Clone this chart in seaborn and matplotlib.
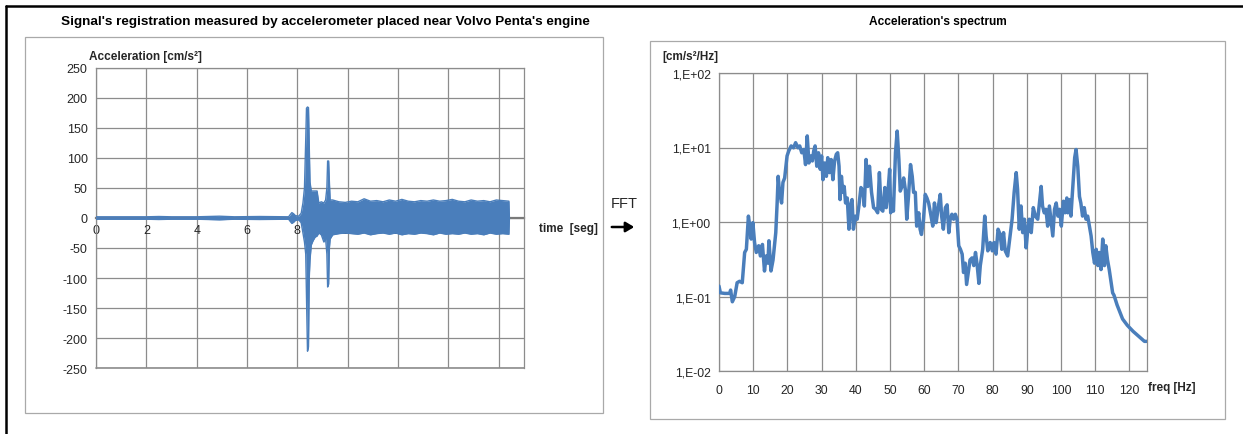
import numpy as np
import pandas as pd
import matplotlib
matplotlib.use("Agg")
import matplotlib.pyplot as plt
from matplotlib.lines import Line2D
from matplotlib.patches import Rectangle, FancyArrowPatch
from matplotlib.ticker import NullLocator, FixedLocator, FixedFormatter
import seaborn as sns

# ---------------- data ----------------
# time-signal envelope (upper / lower bound of the recorded acceleration)
time_s = [0.00, 1.00, 2.00, 2.50, 3.00, 4.00, 4.90, 5.50, 6.50, 7.65, 7.72, 7.78, 7.85, 7.92,
          8.05, 8.15, 8.22, 8.28, 8.33, 8.36, 8.40, 8.44, 8.47, 8.50, 8.55, 8.62, 8.70, 8.78,
          8.85, 8.95, 9.05, 9.12, 9.17, 9.20, 9.24, 9.27, 9.30, 9.40, 9.65, 9.90, 10.15, 10.40,
          10.65, 10.90, 11.15, 11.40, 11.65, 11.90, 12.15, 12.40, 12.65, 12.90, 13.15, 13.40,
          13.65, 13.90, 14.15, 14.40, 14.65, 14.90, 15.15, 15.40, 15.65, 15.90, 16.15, 16.40, 16.42]
acc_upper = [2, 2, 2, 2.5, 2, 2, 3, 2, 2.5, 2, 6, 9, 7, 4,
             3, 8, 25, 50, 130, 183, 185, 184, 120, 60, 45, 45, 45, 45,
             25, 27, 25, 30, 50, 95, 95, 60, 30, 30, 27, 26, 28, 27,
             32, 28, 29, 27, 30, 28, 31, 28, 27, 29, 28, 30,
             28, 29, 31, 28, 27, 30, 28, 29, 27, 30, 29, 28, 0]
acc_lower = [-2, -2, -2, -2.5, -2, -2, -3, -2, -2.5, -2, -6, -9, -7, -4,
             -3, -8, -25, -40, -60, -130, -222, -215, -100, -70, -45, -38, -32, -30,
             -25, -28, -40, -35, -60, -115, -110, -50, -35, -28, -26, -25, -26, -27,
             -25, -28, -26, -25, -27, -25, -28, -26, -27, -25, -26, -28,
             -25, -27, -26, -27, -25, -27, -26, -28, -25, -27, -26, -27, 0]

# acceleration spectrum
freq_hz = [0.0, 0.4, 1.7, 3.1, 3.4, 3.9, 4.6, 5.3, 6.0, 6.8, 7.5, 8.0, 8.6, 9.0, 9.4, 9.9,
           10.4, 10.9, 11.6, 12.1, 12.7, 13.3, 13.8, 14.3, 14.6, 15.2, 15.8, 16.6, 17.0, 17.3,
           17.7, 18.3, 18.7, 19.2, 19.9, 20.4, 21.1, 21.8, 22.4, 23.1, 23.6, 24.2, 24.8, 25.3,
           25.8, 26.3, 26.8, 27.3, 27.7, 28.1, 28.6, 29.1, 29.6, 30.0, 30.4, 30.9, 31.4, 31.8,
           32.3, 32.8, 33.3, 33.8, 34.3, 34.7, 35.1, 35.4, 35.8, 36.2, 36.6, 37.0, 37.5, 38.0,
           38.4, 38.9, 39.3, 39.9, 40.4, 40.9, 41.5, 42.1, 42.5, 43.0, 43.5, 44.0, 44.6, 45.2,
           45.8, 46.4, 46.9, 47.4, 47.9, 48.5, 48.9, 49.4, 49.9, 50.2, 50.6, 51.0, 51.6, 52.1,
           52.6, 53.0, 53.5, 54.0, 54.5, 54.9, 55.4, 56.0, 56.5, 56.9, 57.4, 57.8, 58.4, 58.8,
           59.2, 59.8, 60.3, 60.8, 61.3, 62.0, 62.5, 63.0, 63.5, 64.1, 64.7, 65.1, 65.6, 66.2,
           66.7, 67.2, 67.6, 68.1, 68.6, 69.1, 69.6, 70.1, 70.6, 71.1, 71.5, 72.0, 72.4, 72.9,
           73.4, 74.0, 74.5, 75.0, 75.5, 76.0, 76.4, 77.1, 77.7, 78.1, 78.6, 79.3, 79.9, 80.4,
           81.0, 81.6, 82.2, 82.7, 83.2, 83.7, 84.4, 85.1, 85.7, 86.3, 86.9, 87.3, 87.8, 88.3,
           88.8, 89.3, 89.8, 90.3, 90.7, 91.3, 91.9, 92.5, 93.2, 93.7, 94.2, 94.6, 95.1, 95.6,
           96.1, 96.6, 97.1, 97.6, 98.1, 98.6, 99.1, 99.6, 100.1, 100.7, 101.2, 101.7, 102.0,
           102.4, 102.9, 103.4, 104.0, 104.4, 104.9, 105.4, 105.8, 106.3, 106.8, 107.3, 107.8,
           108.3, 108.8, 109.3, 109.8, 110.3, 110.8, 111.2, 111.7, 112.2, 112.7, 113.1, 113.6,
           114.1, 115.1, 115.5, 116.4, 117.2, 118.0, 119.4, 121.1, 122.8, 124.4, 125.0]
spectrum = [0.138, 0.112, 0.11, 0.11, 0.122, 0.085, 0.10, 0.153, 0.16, 0.153, 0.39, 0.43, 1.2, 0.88, 0.59, 0.98,
            0.53, 0.39, 0.48, 0.35, 0.5, 0.22, 0.35, 0.28, 0.56, 0.22, 0.31, 0.72, 1.8, 4.1,
            2.5, 1.8, 3.4, 3.9, 7.7, 9.0, 10.5, 9.9, 11.6, 9.9, 10.5, 8.5, 9.4, 5.9,
            14.3, 6.2, 7.7, 6.6, 9.0, 10.5, 5.6, 8.5, 5.1, 7.7, 3.7, 6.2, 4.1, 7.3,
            4.6, 6.9, 3.7, 6.6, 8.1, 8.5, 5.6, 2.0, 4.1, 2.5, 3.0, 1.8, 2.1, 0.8,
            1.64, 2.0, 0.8, 1.2, 1.09, 1.64, 2.9, 2.6, 1.64, 6.9, 3.0, 5.6, 2.5, 1.56,
            1.48, 1.33, 4.6, 1.48, 1.4, 2.9, 1.56, 2.5, 5.1, 1.33, 2.0, 1.4, 8.5, 16.6,
            6.9, 2.6, 3.0, 3.9, 2.7, 1.09, 2.2, 5.9, 4.1, 2.5, 2.5, 0.88, 1.33, 0.8,
            0.68, 1.09, 2.35, 2.1, 1.8, 1.2, 0.88, 1.8, 0.98, 1.56, 2.35, 1.2, 0.8, 1.56,
            1.7, 0.72, 1.09, 1.27, 1.09, 1.27, 1.09, 0.48, 0.43, 0.37, 0.21, 0.28, 0.145, 0.21,
            0.31, 0.33, 0.26, 0.39, 0.26, 0.15, 0.26, 0.43, 1.2, 0.65, 0.41, 0.53, 0.41, 0.53,
            0.37, 0.8, 0.68, 0.43, 0.72, 0.41, 0.35, 0.65, 1.09, 2.5, 4.6, 2.75, 0.8, 1.64,
            0.72, 1.09, 0.45, 0.8, 1.09, 0.72, 1.56, 1.2, 1.09, 1.8, 3.0, 1.64, 1.33, 1.48,
            0.88, 1.64, 1.03, 0.65, 1.48, 1.8, 1.2, 1.48, 0.88, 1.9, 1.33, 2.1, 1.33,
            2.0, 1.2, 2.75, 7.3, 9.4, 5.6, 2.2, 1.8, 1.2, 1.56, 1.09, 1.2,
            0.88, 0.65, 0.39, 0.28, 0.43, 0.26, 0.39, 0.23, 0.59, 0.26, 0.48, 0.31,
            0.23, 0.112, 0.104, 0.077, 0.062, 0.05, 0.041, 0.034, 0.029, 0.025, 0.025]

time_ticks = [0, 2, 4, 6, 8, 10, 12, 14, 16]
acc_ticks = [250, 200, 150, 100, 50, 0, -50, -100, -150, -200, -250]
freq_ticks = [0, 10, 20, 30, 40, 50, 60, 70, 80, 90, 100, 110, 120]
spec_ticks = [1e-2, 1e-1, 1e0, 1e1, 1e2]
spec_tick_labels = ["1,E-02", "1,E-01", "1,E+00", "1,E+01", "1,E+02"]

# ---------------- style ----------------
sns.set_style("white")
plt.rcParams["font.family"] = ["Liberation Sans", "DejaVu Sans"]
plt.rcParams["axes.unicode_minus"] = False

W, H = 1243, 435
def fx(px):
    return px / W
def fy(py):
    return 1 - py / H

BLUE = "#4A7EBB"
GRID = "#8c8c8c"
TXT = "#262626"

fig = plt.figure(figsize=(W / 100, H / 100), dpi=100)
fig.patch.set_facecolor("white")

# outer black frame (top and left visible)
fig.add_artist(Line2D([fx(6), 1], [fy(7), fy(7)], color="black", lw=1.8, transform=fig.transFigure))
fig.add_artist(Line2D([fx(6), fx(6)], [fy(7), 0], color="black", lw=1.8, transform=fig.transFigure))

# chart boxes
fig.add_artist(Rectangle((fx(25), fy(414)), fx(603) - fx(25), fy(38) - fy(414),
                         fill=False, ec="#a9a9a9", lw=0.9, transform=fig.transFigure))
fig.add_artist(Rectangle((fx(650), fy(420)), fx(1225) - fx(650), fy(42) - fy(420),
                         fill=False, ec="#a9a9a9", lw=0.9, transform=fig.transFigure))

# ---------------- left: time signal ----------------
ax1 = fig.add_axes([fx(96), fy(369), fx(524) - fx(96), fy(69) - fy(369)])
sig = pd.DataFrame({"t": time_s, "up": acc_upper, "lo": acc_lower})
ax1.fill_between(sig["t"], sig["lo"], sig["up"], color=BLUE, lw=0, zorder=3)
sns.lineplot(data=sig, x="t", y="up", ax=ax1, color=BLUE, lw=1.0, estimator=None, sort=False, zorder=3)
sns.lineplot(data=sig, x="t", y="lo", ax=ax1, color=BLUE, lw=1.0, estimator=None, sort=False, zorder=3)
ax1.set_xlim(0, 17)
ax1.set_ylim(-250, 250)
ax1.set_xticks(time_ticks)
ax1.set_yticks(acc_ticks)
ax1.set_xlabel("")
ax1.set_ylabel("")
ax1.grid(True, color=GRID, lw=0.9, zorder=0)
ax1.set_axisbelow(True)
for s in ["top", "right", "left"]:
    ax1.spines[s].set_color(GRID)
    ax1.spines[s].set_linewidth(0.9)
ax1.spines["bottom"].set_position(("data", 0))
ax1.spines["bottom"].set_color("#7a7a7a")
ax1.spines["bottom"].set_linewidth(1.6)
ax1.spines["bottom"].set_zorder(2)
ax1.axhline(-250, color=GRID, lw=1.2, zorder=1, clip_on=False)
ax1.tick_params(axis="y", direction="out", length=4, width=0.8, color=GRID, labelsize=9,
                labelcolor=TXT, pad=2)
ax1.tick_params(axis="x", direction="out", length=3, width=0.8, color=GRID, labelsize=9,
                labelcolor=TXT, pad=1)

# ---------------- right: spectrum ----------------
ax2 = fig.add_axes([fx(719), fy(372), fx(1146.5) - fx(719), fy(74) - fy(372)])
spec = pd.DataFrame({"f": freq_hz, "a": spectrum})
sns.lineplot(data=spec, x="f", y="a", ax=ax2, color=BLUE, lw=2.5, estimator=None, sort=False, zorder=3)
ax2.set_yscale("log")
ax2.set_xlim(0, 125)
ax2.set_ylim(1e-2, 1e2)
ax2.xaxis.set_major_locator(FixedLocator(freq_ticks))
ax2.yaxis.set_major_locator(FixedLocator(spec_ticks))
ax2.yaxis.set_major_formatter(FixedFormatter(spec_tick_labels))
ax2.yaxis.set_minor_locator(NullLocator())
ax2.set_xlabel("")
ax2.set_ylabel("")
ax2.grid(True, which="major", color=GRID, lw=0.9, zorder=0)
ax2.set_axisbelow(True)
for s in ["top", "right", "left", "bottom"]:
    ax2.spines[s].set_color(GRID)
    ax2.spines[s].set_linewidth(0.9)
ax2.tick_params(axis="y", direction="out", length=4, width=0.8, color=GRID, labelsize=8.8,
                labelcolor=TXT, pad=2)
ax2.tick_params(axis="x", direction="out", length=0, labelsize=8.8, labelcolor=TXT, pad=9)

# ---------------- texts ----------------
fig.text(fx(325), fy(22), "Signal's registration measured by accelerometer placed near Volvo Penta's engine",
         ha="center", va="center", fontsize=9.7, fontweight="bold", color="black")
fig.text(fx(938), fy(22), "Acceleration's spectrum",
         ha="center", va="center", fontsize=8.6, fontweight="bold", color="black")
fig.text(fx(89), fy(57), "Acceleration [cm/s²]", ha="left", va="center", fontsize=8.5,
         fontweight="bold", color=TXT)
fig.text(fx(539), fy(229), "time  [seg]", ha="left", va="center", fontsize=8.5,
         fontweight="bold", color=TXT)
fig.text(fx(662), fy(57), "[cm/s²/Hz]", ha="left", va="center", fontsize=8.5,
         fontweight="bold", color=TXT)
fig.text(fx(1148), fy(388), "freq [Hz]", ha="left", va="center", fontsize=8.5,
         fontweight="bold", color=TXT)
fig.text(fx(624), fy(204), "FFT", ha="center", va="center", fontsize=10.5, color=TXT)
fig.add_artist(FancyArrowPatch((fx(609), fy(228)), (fx(637), fy(228)), transform=fig.transFigure,
                               arrowstyle="-|>,head_length=5,head_width=3", lw=1.8,
                               color="black", mutation_scale=1))

fig.savefig("out.png", dpi=100)
